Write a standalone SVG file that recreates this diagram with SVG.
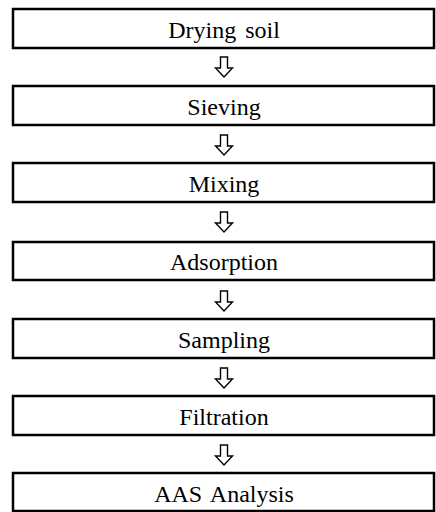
<svg xmlns="http://www.w3.org/2000/svg" width="436" height="512" viewBox="0 0 436 512">
<defs>
<style>
.box{fill:#fff;stroke:#000;stroke-width:2.5}
.lbl{font-family:"Liberation Serif","Times New Roman",serif;font-size:24px;fill:#000;text-anchor:middle}
.arr{fill:#fff;stroke:#000;stroke-width:1.4;stroke-linejoin:miter}
</style>
<path id="ar" class="arr" d="M-3.5,0 H3.5 V11 H8.5 L0,20 L-8.5,11 H-3.5 Z"/>
</defs>
<rect width="436" height="512" fill="#fff"/>
<g id="connectors">
<use href="#ar" x="224" y="57"/>
<use href="#ar" x="224" y="135"/>
<use href="#ar" x="224" y="212"/>
<use href="#ar" x="224" y="291"/>
<use href="#ar" x="224" y="368"/>
<use href="#ar" x="224" y="445"/>
</g>
<g id="n1"><rect class="box" x="13" y="9" width="421" height="39"/><text class="lbl" x="224" y="38" word-spacing="3">Drying soil</text></g>
<g id="n2"><rect class="box" x="13" y="86" width="421" height="39"/><text class="lbl" x="224" y="115">Sieving</text></g>
<g id="n3"><rect class="box" x="13" y="163" width="421" height="39"/><text class="lbl" x="224" y="192">Mixing</text></g>
<g id="n4"><rect class="box" x="13" y="242" width="421" height="38"/><text class="lbl" x="224" y="270">Adsorption</text></g>
<g id="n5"><rect class="box" x="13" y="319" width="421" height="39"/><text class="lbl" x="224" y="348">Sampling</text></g>
<g id="n6"><rect class="box" x="13" y="396" width="421" height="39"/><text class="lbl" x="224" y="425">Filtration</text></g>
<g id="n7"><rect class="box" x="13" y="473" width="421" height="38"/><text class="lbl" x="224" y="502" word-spacing="3">AAS Analysis</text></g>
</svg>
